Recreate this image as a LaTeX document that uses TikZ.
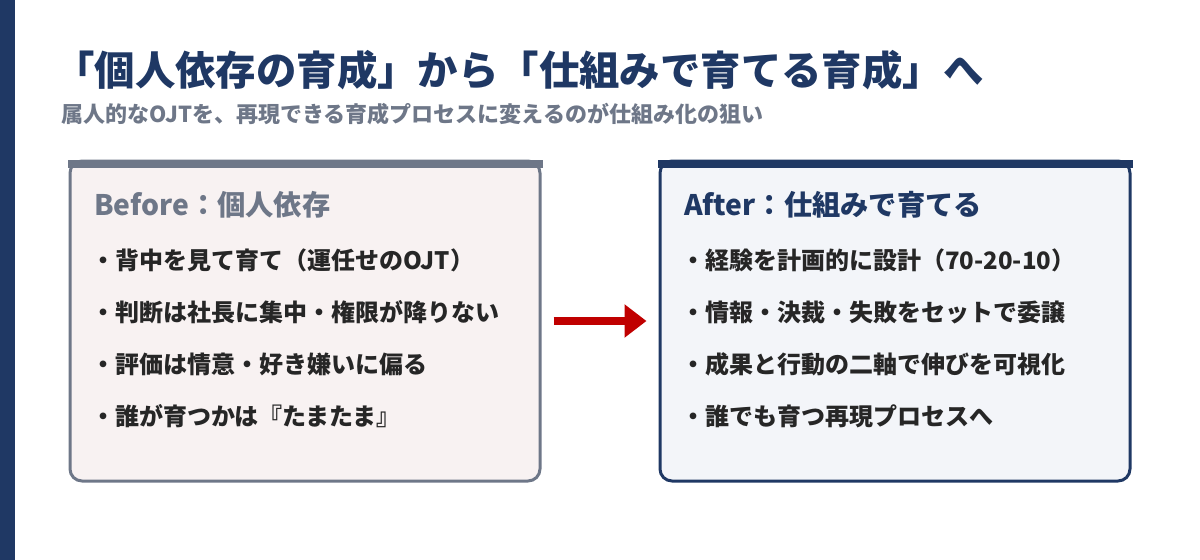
\documentclass[tikz,border=0pt]{standalone}
\usepackage{fontspec}
\setmainfont{Noto Sans CJK JP}
\usetikzlibrary{calc, positioning, arrows.meta}
\definecolor{navy}{HTML}{1F3864}
\definecolor{slate}{HTML}{6E7788}
\definecolor{ink}{HTML}{262626}
\definecolor{pinkbg}{HTML}{F8F2F2}
\definecolor{bluebg}{HTML}{F3F5F9}
\definecolor{arrowred}{HTML}{C00000}

\begin{document}
\begin{tikzpicture}[x=0.75pt,y=-0.75pt,
	box/.style={
		draw,
		line width=2.25pt,
		rounded corners=9pt,
		minimum width=352.5pt,
		minimum height=240pt,
		inner sep=0pt,
	},
	head/.style={anchor=west,inner sep=0pt,font=\bfseries\fontsize{21.2}{25}\selectfont},
	item/.style={anchor=west,inner sep=0pt,text=ink,font=\bfseries\fontsize{18}{22}\selectfont},
]
	\useasboundingbox (0,0) rectangle (1200,560);
	\fill[navy] (0,0) rectangle (15,560);

	% title
	\node[anchor=west,inner sep=0pt,text=navy,font=\bfseries\fontsize{30.3}{35}\selectfont]
		(title) at (54,70) {「個人依存の育成」から「仕組みで育てる育成」へ};
	\node[anchor=west,inner sep=0pt,text=slate,font=\bfseries\fontsize{16.5}{20}\selectfont]
		(subtitle) at (61,114) {属人的なOJTを、再現できる育成プロセスに変えるのが仕組み化の狙い};

	% boxes
	\node[box,draw=slate,fill=pinkbg] (before) at (305,321) {};
	\node[box,draw=navy,fill=bluebg] (after) at (895,321) {};
	\fill[slate] ($(before.north west)+(-1,0)$) rectangle ($(before.north east)+(1,8)$);
	\fill[navy] ($(after.north west)+(-1,0)$) rectangle ($(after.north east)+(1,8)$);

	\node[head,text=slate] (beforehead) at (94,205) {Before：個人依存};
	\node[head,text=navy] (afterhead) at (684,205) {After：仕組みで育てる};

	\foreach \t [count=\i] in {背中を見て育て（運任せのOJT）,判断は社長に集中・権限が降りない,
		評価は情意・好き嫌いに偏る,誰が育つかは『たまたま』}{
		\node[item] (b\i) at (91,208+52*\i) {・\t};
	}
	\foreach \t [count=\i] in {経験を計画的に設計（70-20-10）,情報・決裁・失敗をセットで委譲,
		成果と行動の二軸で伸びを可視化,誰でも育つ再現プロセスへ}{
		\node[item] (a\i) at (681,208+52*\i) {・\t};
	}

	% arrow
	\draw[arrowred,line width=6pt,-{Triangle[length=16.5pt,width=24pt]}]
		([xshift=9pt]before.east) -- ([xshift=-9pt]after.west);
\end{tikzpicture}
\end{document}
